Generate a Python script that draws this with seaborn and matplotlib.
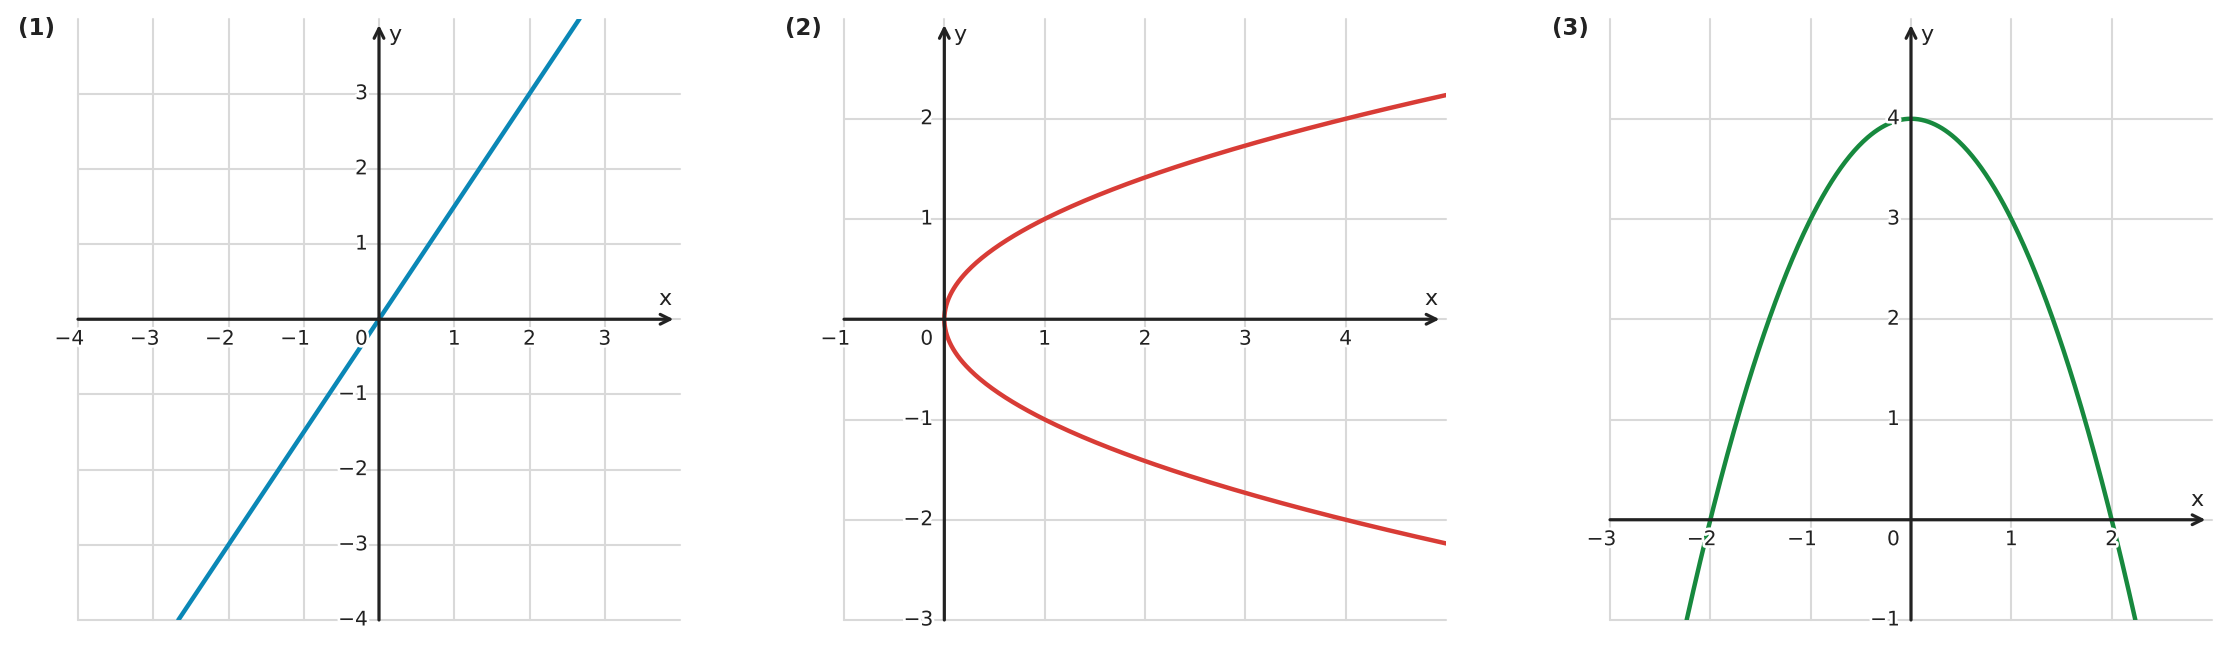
import numpy as np
import seaborn as sns
import matplotlib.pyplot as plt
import matplotlib.patheffects as pe

# panel titles
panel_names = ['(1)', '(2)', '(3)']

# axis windows (xmin, xmax, ymin, ymax)
windows = [(-4, 4, -4, 4), (-1, 5, -3, 3), (-3, 3, -1, 5)]

# tick values shown on each axis
x_ticks = [[-4, -3, -2, -1, 1, 2, 3], [-1, 1, 2, 3, 4], [-3, -2, -1, 1, 2]]
y_ticks = [[-4, -3, -2, -1, 1, 2, 3], [-3, -2, -1, 1, 2], [-1, 1, 2, 3, 4]]

# (1) y = 1.5 x
line_slope = 1.5
# (2) x = y^2
sideways_coef = 1.0
# (3) y = 4 - x^2
top_value = 4.0
down_coef = -1.0

colors = ['#0a87b6', '#d83c36', '#17893e']

PX = 0.72  # points per pixel at dpi 100
INK = '#222222'
FS = 14.5

sns.set_style('white')
plt.rcParams['font.family'] = ['DejaVu Sans']

fig = plt.figure(figsize=(22.3, 6.48), dpi=100)
lefts = [78, 844, 1610]
axes = [fig.add_axes([l / 2230, 28 / 648, 602 / 2230, 601.5 / 648]) for l in lefts]

# curve data built from the equations
ys1 = np.array([windows[0][2], windows[0][3]], dtype=float)
curve1 = (ys1 / line_slope, ys1)
ys2 = np.linspace(-np.sqrt(windows[1][1] / sideways_coef), np.sqrt(windows[1][1] / sideways_coef), 400)
curve2 = (sideways_coef * ys2 ** 2, ys2)
xs3 = np.linspace(-np.sqrt((top_value - windows[2][2]) / -down_coef),
                  np.sqrt((top_value - windows[2][2]) / -down_coef), 400)
curve3 = (xs3, top_value + down_coef * xs3 ** 2)
curves = [curve1, curve2, curve3]

stroke = [pe.withStroke(linewidth=4, foreground='white')]

for i, ax in enumerate(axes):
    x0, x1, y0, y1 = windows[i]
    ax.set_xlim(x0, x1)
    ax.set_ylim(y0, y1)
    ax.set_axisbelow(False)

    # grid (no lines on the top and right edges)
    for gx in range(x0, x1):
        ax.axvline(gx, color='#d9d9d9', lw=1.5, zorder=0.5, clip_on=False)
    for gy in range(y0, y1):
        ax.axhline(gy, color='#d9d9d9', lw=1.5, zorder=0.5, clip_on=False)

    # curve
    cx, cy = curves[i]
    sns.lineplot(x=cx, y=cy, ax=ax, color=colors[i], linewidth=3.2,
                 sort=False, estimator=None, zorder=2)

    # axes through the origin
    for s in ax.spines.values():
        s.set_visible(False)
    ax.spines['left'].set_position(('data', 0))
    ax.spines['bottom'].set_position(('data', 0))

    dx = 6.5 / 602 * (x1 - x0)
    dy = 6.5 / 602 * (y1 - y0)
    ap = dict(arrowstyle='->,head_length=0.7,head_width=0.35', lw=2.3,
              color=INK, shrinkA=0, shrinkB=0)
    ax.annotate('', xy=(x1 - dx, 0), xytext=(x0, 0), arrowprops=ap, zorder=4)
    ax.annotate('', xy=(0, y1 - dy), xytext=(0, y0), arrowprops=ap, zorder=4)

    ax.set_xticks(x_ticks[i])
    ax.set_yticks(y_ticks[i])
    ax.set_xticklabels([])
    ax.set_yticklabels([])
    ax.tick_params(direction='inout', length=8.5, width=2.3, color=INK)

    # tick labels
    for t in x_ticks[i]:
        if t < 0:
            ax.annotate(f'\u2212{abs(t)}', (t, 0), xytext=(4.5, -7.5),
                        textcoords='offset points', ha='right', va='top',
                        fontsize=FS, color=INK, path_effects=stroke, zorder=5)
        else:
            ax.annotate(f'{t}', (t, 0), xytext=(0, -7.5),
                        textcoords='offset points', ha='center', va='top',
                        fontsize=FS, color=INK, path_effects=stroke, zorder=5)
    for t in y_ticks[i]:
        lab = f'\u2212{abs(t)}' if t < 0 else f'{t}'
        ax.annotate(lab, (0, t), xytext=(-8, 0), textcoords='offset points',
                    ha='right', va='center', fontsize=FS, color=INK,
                    path_effects=stroke, zorder=5)
    ax.annotate('0', (0, 0), xytext=(-8, -7.5), textcoords='offset points',
                ha='right', va='top', fontsize=FS, color=INK,
                path_effects=stroke, zorder=5)

    # axis names
    ax.annotate('x', (x1, 0), xytext=(-15.5 * PX, 14 * PX), textcoords='offset points',
                ha='center', va='baseline', fontsize=FS + 1.5, color=INK, zorder=5)
    ax.annotate('y', (0, y1), xytext=(9 * PX, -22.5 * PX), textcoords='offset points',
                ha='left', va='baseline', fontsize=FS + 1.5, color=INK, zorder=5)

    ax.set_xlabel('')
    ax.set_ylabel('')

# panel labels
for name, xpix in zip(panel_names, [18, 785, 1552]):
    fig.text(xpix / 2230, 1 - 17 / 648, name, ha='left', va='top',
             fontsize=16.5, fontweight='bold', color=INK)

fig.savefig('out.png', dpi=100)
